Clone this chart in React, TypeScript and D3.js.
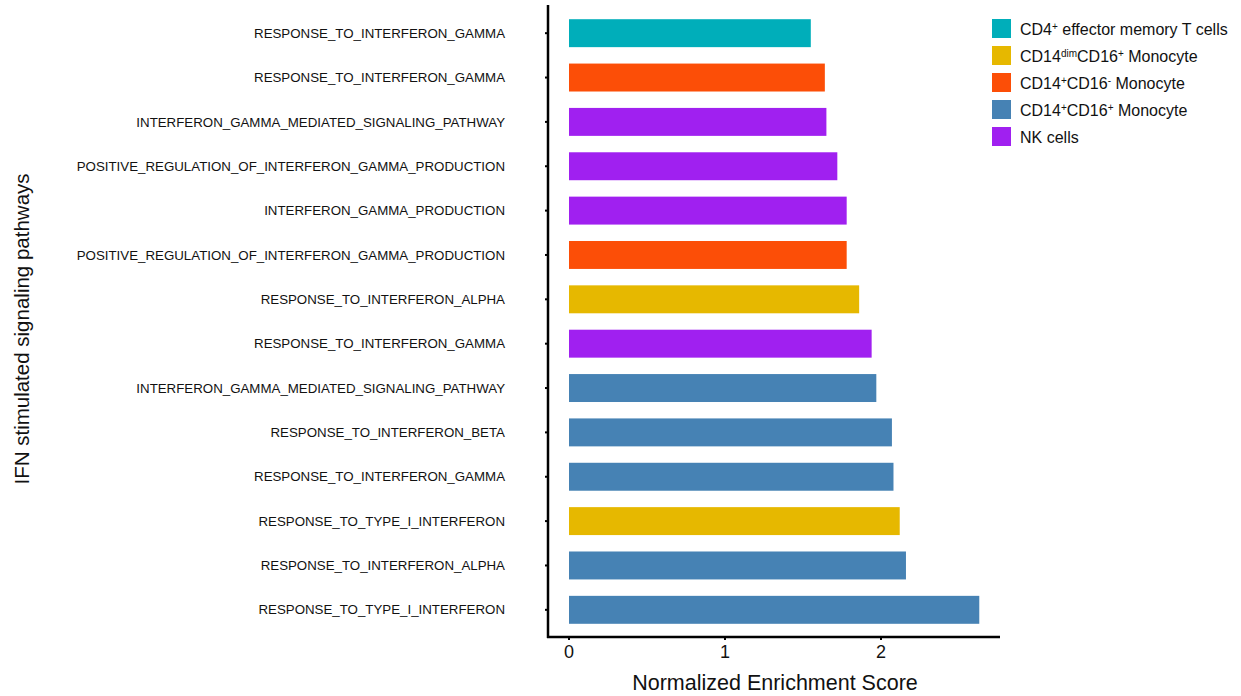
import React from "react";
import * as d3 from "d3";

const pathways = [
  "RESPONSE_TO_INTERFERON_GAMMA",
  "RESPONSE_TO_INTERFERON_GAMMA",
  "INTERFERON_GAMMA_MEDIATED_SIGNALING_PATHWAY",
  "POSITIVE_REGULATION_OF_INTERFERON_GAMMA_PRODUCTION",
  "INTERFERON_GAMMA_PRODUCTION",
  "POSITIVE_REGULATION_OF_INTERFERON_GAMMA_PRODUCTION",
  "RESPONSE_TO_INTERFERON_ALPHA",
  "RESPONSE_TO_INTERFERON_GAMMA",
  "INTERFERON_GAMMA_MEDIATED_SIGNALING_PATHWAY",
  "RESPONSE_TO_INTERFERON_BETA",
  "RESPONSE_TO_INTERFERON_GAMMA",
  "RESPONSE_TO_TYPE_I_INTERFERON",
  "RESPONSE_TO_INTERFERON_ALPHA",
  "RESPONSE_TO_TYPE_I_INTERFERON",
];
const nes = [1.55, 1.64, 1.65, 1.72, 1.78, 1.78, 1.86, 1.94, 1.97, 2.07, 2.08, 2.12, 2.16, 2.63];
const cellType = [0, 2, 4, 4, 4, 2, 1, 4, 3, 3, 3, 1, 3, 3];
const cellKeys = ["cd4", "cd14dim", "cd14pos16neg", "cd14pos16pos", "nk"];
const cellColors = ["#00AEBA", "#E6B800", "#FC4E07", "#4682B4", "#A020F0"];
const xTicks = [0, 1, 2];

const W = 1241, H = 696;
const left = 548, right = 1000, bottom = 637;
const font = "Arial, 'Liberation Sans', sans-serif";

function LegendLabel({ i }: { i: number }) {
  const sup = { baselineShift: "super", fontSize: "10px" } as React.CSSProperties;
  if (i === 0) return (<><tspan>CD4</tspan><tspan style={sup}>+</tspan><tspan> effector memory T cells</tspan></>);
  if (i === 1) return (<><tspan>CD14</tspan><tspan style={sup}>dim</tspan><tspan>CD16</tspan><tspan style={sup}>+</tspan><tspan> Monocyte</tspan></>);
  if (i === 2) return (<><tspan>CD14</tspan><tspan style={sup}>+</tspan><tspan>CD16</tspan><tspan style={sup}>-</tspan><tspan> Monocyte</tspan></>);
  if (i === 3) return (<><tspan>CD14</tspan><tspan style={sup}>+</tspan><tspan>CD16</tspan><tspan style={sup}>+</tspan><tspan> Monocyte</tspan></>);
  return <tspan>NK cells</tspan>;
}

export default function App() {
  const x = d3.scaleLinear().domain([0, 1]).range([569, 725]);
  const idx = d3.range(pathways.length);
  const y = d3.scaleBand<number>().domain(idx).range([11, 632]).paddingInner(0.37).paddingOuter(0.185);
  const color = d3.scaleOrdinal<string, string>().domain(cellKeys).range(cellColors);

  return (
    <svg width={W} height={H} style={{ position: "absolute", left: 0, top: 0, background: "#fff" }} fontFamily={font}>
      {idx.map((i) => (
        <g key={i}>
          <rect x={x(0)} y={y(i)!} width={x(nes[i]) - x(0)} height={y.bandwidth()} fill={color(cellKeys[cellType[i]])} />
          <line x1={left - 3} x2={left} y1={y(i)! + y.bandwidth() / 2} y2={y(i)! + y.bandwidth() / 2} stroke="#000" strokeWidth={2} />
          <text x={505} y={y(i)! + y.bandwidth() / 2} dy="0.35em" textAnchor="end" fontSize={13.3} fill="#111">{pathways[i]}</text>
        </g>
      ))}
      <line x1={left} x2={left} y1={5} y2={bottom + 1} stroke="#000" strokeWidth={2.5} />
      <line x1={left - 1} x2={right} y1={bottom} y2={bottom} stroke="#000" strokeWidth={2.5} />
      {xTicks.map((t) => (
        <g key={t}>
          <line x1={x(t)} x2={x(t)} y1={bottom} y2={bottom + 3} stroke="#000" strokeWidth={2} />
          <text x={x(t)} y={bottom + 21} textAnchor="middle" fontSize={18} fill="#111">{t}</text>
        </g>
      ))}
      <text x={775} y={690} textAnchor="middle" fontSize={21.5} fill="#111">Normalized Enrichment Score</text>
      <text transform={`translate(29,${329}) rotate(-90)`} textAnchor="middle" fontSize={20.5} fill="#111">IFN stimulated signaling pathways</text>
      {cellKeys.map((k, i) => (
        <g key={k} transform={`translate(992,${19 + i * 27})`}>
          <rect width={19} height={19} fill={cellColors[i]} />
          <text x={28} y={10} dy="0.35em" fontSize={16} fill="#111"><LegendLabel i={i} /></text>
        </g>
      ))}
    </svg>
  );
}
